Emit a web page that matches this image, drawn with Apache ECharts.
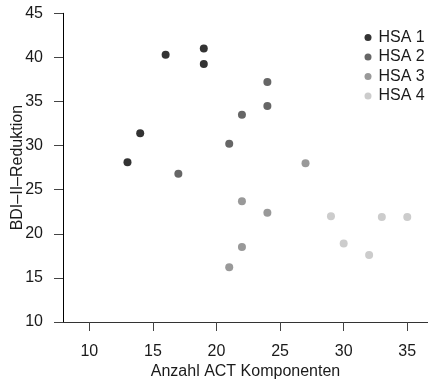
<!DOCTYPE html>
<html>
<head>
<meta charset="utf-8">
<script src="https://cdn.jsdelivr.net/npm/echarts@6/dist/echarts.min.js"></script>
<style>html,body{margin:0;padding:0;background:#fff}#c{width:428px;height:381px}</style>
</head>
<body>
<div id="c"></div>
<script>
const groups = ['HSA 1', 'HSA 2', 'HSA 3', 'HSA 4'];
const hsa1 = [[13, 28.1], [14, 31.4], [16, 40.3], [19, 41.0], [19, 39.25]];
const hsa2 = [[17, 26.8], [21, 30.2], [22, 33.5], [24, 37.2], [24, 34.5]];
const hsa3 = [[27, 28.0], [22, 23.7], [24, 22.4], [22, 18.5], [21, 16.2]];
const hsa4 = [[29, 22.0], [30, 18.9], [32, 17.6], [33, 21.9], [35, 21.9]];
const xTicks = [10, 15, 20, 25, 30, 35];
const yTicks = [10, 15, 20, 25, 30, 35, 40, 45];
const colors = ['#333333', '#666666', '#999999', '#cccccc'];
const xTitle = 'Anzahl ACT Komponenten';
const yTitle = 'BDI–II–Reduktion';

const FONT = '"Liberation Sans", Arial, sans-serif';
const FS = 16;
const chart = echarts.init(document.getElementById('c'), null, {renderer: 'canvas'});
const allData = [hsa1, hsa2, hsa3, hsa4];
chart.setOption({
  animation: false,
  backgroundColor: '#fff',
  textStyle: {fontFamily: FONT},
  grid: {left: 63, right: 0, top: 13.3, bottom: 59, containLabel: false, outerBoundsMode: 'none'},
  legend: {
    data: groups,
    orient: 'vertical',
    left: 359.5,
    top: 24.5,
    itemWidth: 7,
    itemHeight: 7,
    itemGap: 3.5,
    icon: 'circle',
    textStyle: {fontSize: FS, color: '#1a1a1a', fontFamily: FONT, lineHeight: 16, padding: [0, 0, 0, 2]}
  },
  xAxis: {
    type: 'value',
    min: 7.93,
    max: 36.63,
    name: xTitle,
    nameLocation: 'middle',
    nameGap: 42,
    nameMoveOverlap: false,
    nameTextStyle: {fontSize: FS, color: '#1a1a1a', fontFamily: FONT},
    axisLine: {show: true, onZero: false, lineStyle: {color: '#333', width: 1}},
    axisTick: {show: true, length: 9, customValues: xTicks, lineStyle: {color: '#444'}},
    axisLabel: {customValues: xTicks, fontSize: FS, color: '#1a1a1a', margin: 22, fontFamily: FONT},
    splitLine: {show: false}
  },
  yAxis: {
    type: 'value',
    min: 10,
    max: 45,
    interval: 5,
    name: yTitle,
    nameLocation: 'middle',
    nameGap: 37.5,
    nameMoveOverlap: false,
    nameRotate: 90,
    nameTextStyle: {fontSize: FS, color: '#1a1a1a', fontFamily: FONT},
    axisLine: {show: true, onZero: false, lineStyle: {color: '#000', width: 1}},
    axisTick: {show: true, length: 9, lineStyle: {color: '#444'}},
    axisLabel: {fontSize: FS, color: '#1a1a1a', margin: 20, fontFamily: FONT,
      formatter: v => yTicks.includes(v) ? String(v) : ''},
    splitLine: {show: false}
  },
  series: groups.map((g, i) => ({
    name: g,
    type: 'scatter',
    data: allData[i],
    symbol: 'circle',
    symbolSize: 8,
    itemStyle: {color: colors[i], opacity: 1}
  }))
});
</script>
</body>
</html>
